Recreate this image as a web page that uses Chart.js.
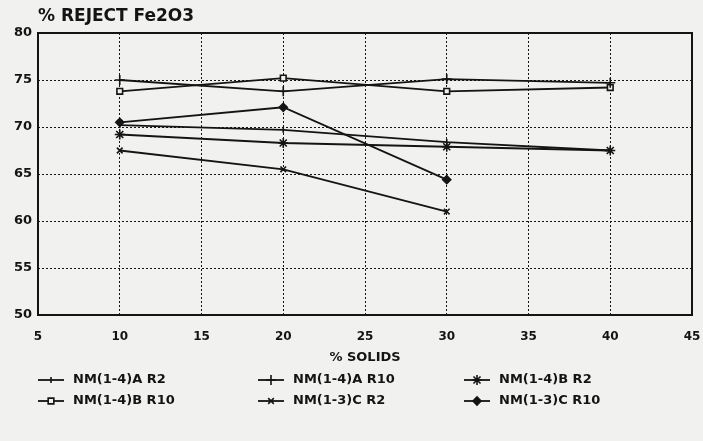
<!DOCTYPE html>
<html>
<head>
<meta charset="utf-8">
<script src="https://cdn.jsdelivr.net/npm/chart.js@4.4.0/dist/chart.umd.min.js"></script>
<style>
  html, body { margin: 0; padding: 0; background: #f1f1ef; }
  canvas { display: block; }
</style>
</head>
<body>
<canvas id="chart" width="703" height="441"></canvas>
<script>
// % solids on the x axis
const solids = [10, 20, 30, 40];
const xTicks = [5, 10, 15, 20, 25, 30, 35, 40, 45];
const yTicks = [50, 55, 60, 65, 70, 75, 80];

// % reject Fe2O3 per sample (C samples stop at 30 %)
const nm14A_R2  = [70.2, 69.7, 68.4, 67.5];
const nm14A_R10 = [75.0, 73.8, 75.1, 74.7];
const nm14B_R2  = [69.2, 68.3, 67.9, 67.5];
const nm14B_R10 = [73.8, 75.2, 73.8, 74.2];
const nm13C_R2  = [67.5, 65.5, 61.0];
const nm13C_R10 = [70.5, 72.1, 64.4];

const INK = '#141414';
const PAPER = '#f1f1ef';
const FONT = '"DejaVu Sans", "Liberation Sans", sans-serif';

function points(values) {
    return values.map((v, i) => ({ x: solids[i], y: v }));
}

function series(label, values, style, extra) {
    return Object.assign({
        label: label,
        data: points(values),
        borderColor: INK,
        backgroundColor: INK,
        borderWidth: 1.8,
        pointStyle: style,
        pointRadius: 4,
        pointBorderWidth: 1.6,
        pointBorderColor: INK,
        pointBackgroundColor: INK,
        tension: 0,
        fill: false
    }, extra || {});
}

const datasets = [
    series('NM(1-4)A R2', nm14A_R2, 'line', { pointRotation: 90, pointRadius: 3 }),
    series('NM(1-4)A R10', nm14A_R10, 'cross', { pointRadius: 5 }),
    series('NM(1-4)B R2', nm14B_R2, 'star', { pointRadius: 5 }),
    series('NM(1-4)B R10', nm14B_R10, 'rect', { pointBackgroundColor: PAPER, pointRadius: 4 }),
    series('NM(1-3)C R2', nm13C_R2, 'crossRot', { pointRadius: 4 }),
    series('NM(1-3)C R10', nm13C_R10, 'rectRot', { pointRadius: 4 })
];

// title, frame and the 3 x 2 legend under the axis
const decor = {
    id: 'decor',
    afterDatasetsDraw(chart) {
        const ctx = chart.ctx;
        const a = chart.chartArea;
        ctx.save();

        ctx.strokeStyle = INK;
        ctx.lineWidth = 2;
        ctx.setLineDash([]);
        ctx.strokeRect(a.left, a.top, a.right - a.left, a.bottom - a.top);

        ctx.fillStyle = INK;
        ctx.font = 'bold 17px ' + FONT;
        ctx.textAlign = 'left';
        ctx.textBaseline = 'middle';
        ctx.fillText('% REJECT Fe2O3', a.left, 17);

        const cols = [38, 258, 464];
        const rows = [380, 401];
        ctx.font = 'bold 13px ' + FONT;
        chart.data.datasets.forEach((ds, i) => {
            const x = cols[i % 3];
            const y = rows[Math.floor(i / 3)];
            ctx.strokeStyle = INK;
            ctx.lineWidth = 1.8;
            ctx.beginPath();
            ctx.moveTo(x, y);
            ctx.lineTo(x + 26, y);
            ctx.stroke();
            ctx.fillStyle = ds.pointBackgroundColor;
            ctx.lineWidth = ds.pointBorderWidth;
            Chart.helpers.drawPoint(ctx, {
                pointStyle: ds.pointStyle,
                rotation: ds.pointRotation || 0,
                radius: ds.pointRadius,
                borderWidth: ds.pointBorderWidth
            }, x + 13, y);
            ctx.fillStyle = INK;
            ctx.fillText(ds.label, x + 35, y);
        });
        ctx.restore();
    }
};

new Chart(document.getElementById('chart'), {
    type: 'line',
    data: { datasets: datasets },
    plugins: [decor],
    options: {
        responsive: false,
        animation: false,
        layout: { padding: { top: 33, right: 11, bottom: 76, left: 0 } },
        plugins: {
            legend: { display: false },
            tooltip: { enabled: false }
        },
        scales: {
            x: {
                type: 'linear',
                min: 5,
                max: 45,
                afterBuildTicks: (scale) => { scale.ticks = xTicks.map(v => ({ value: v })); },
                afterFit: (scale) => {
                    scale.height = 50;
                    scale.paddingLeft = 0;
                    scale.paddingRight = 0;
                },
                grid: { color: INK, lineWidth: 1, drawTicks: false },
                border: { display: false, dash: [2, 2] },
                ticks: {
                    color: INK,
                    padding: 15,
                    maxRotation: 0,
                    font: { family: FONT, size: 12, weight: 'bold' }
                },
                title: {
                    display: true,
                    text: '% SOLIDS',
                    color: INK,
                    padding: { top: 5, bottom: 0 },
                    font: { family: FONT, size: 13, weight: 'bold' }
                }
            },
            y: {
                min: 50,
                max: 80,
                afterBuildTicks: (scale) => { scale.ticks = yTicks.map(v => ({ value: v })); },
                afterFit: (scale) => {
                    scale.width = 38;
                    scale.paddingTop = 0;
                    scale.paddingBottom = 0;
                },
                grid: { color: INK, lineWidth: 1, drawTicks: false },
                border: { display: false, dash: [2, 2] },
                ticks: {
                    color: INK,
                    padding: 6,
                    font: { family: FONT, size: 13, weight: 'bold' }
                }
            }
        }
    }
});
</script>
</body>
</html>
